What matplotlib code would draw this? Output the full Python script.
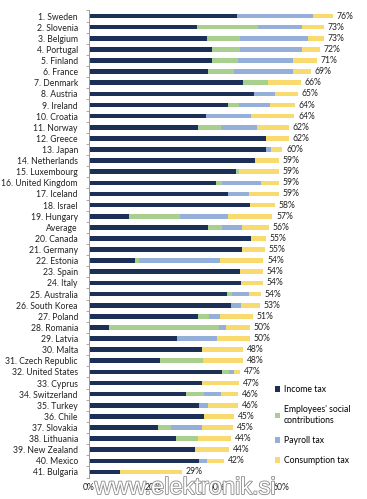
import matplotlib
matplotlib.use('Agg')
import matplotlib.pyplot as plt
import matplotlib.patheffects as pe
from matplotlib.patches import Patch
import numpy as np

plt.rcParams['font.family'] = ['Lato', 'DejaVu Sans']

# Data (% of labour cost)
countries = [
    '1. Sweden', '2. Slovenia', '3. Belgium', '4. Portugal', '5. Finland',
    '6. France', '7. Denmark', '8. Austria', '9. Ireland', '10. Croatia',
    '11. Norway', '12. Greece', '13. Japan', '14. Netherlands', '15. Luxembourg',
    '16. United Kingdom', '17. Iceland', '18. Israel', '19. Hungary', 'Average',
    '20. Canada', '21. Germany', '22. Estonia', '23. Spain', '24. Italy',
    '25. Australia', '26. South Korea', '27. Poland', '28. Romania', '29. Latvia',
    '30. Malta', '31. Czech Republic', '32. United States', '33. Cyprus',
    '34. Switzerland', '35. Turkey', '36. Chile', '37. Slovakia', '38. Lithuania',
    '39. New Zealand', '40. Mexico', '41. Bulgaria',
]
income_tax = [46.1, 33.8, 36.8, 38.4, 38.4, 37.2, 48.0, 51.6, 43.4, 36.5,
              34.0, 55.2, 55.3, 52.0, 46.0, 39.7, 43.5, 50.3, 12.5, 37.1,
              50.7, 47.7, 14.5, 47.3, 47.5, 43.1, 44.4, 34.0, 6.4, 27.5,
              35.3, 22.2, 41.6, 35.3, 30.4, 34.5, 35.8, 21.7, 27.3, 33.2,
              34.4, 9.8]
employee_social = [0, 19.1, 10.4, 8.8, 8.3, 8.2, 8.0, 0, 3.6, 0,
                   7.3, 0, 0, 0, 1.0, 1.8, 0, 0, 16.0, 4.4,
                   0, 0, 1.1, 0, 0, 1.6, 0, 3.5, 34.2, 0,
                   0, 13.5, 2.3, 0, 5.6, 0, 0, 3.9, 6.8, 0,
                   0, 0]
payroll_tax = [24.0, 13.8, 21.3, 19.5, 17.2, 18.5, 0, 6.5, 9.6, 14.2,
               11.1, 0, 1.5, 0, 0, 12.2, 6.6, 0, 14.9, 6.2,
               0, 0, 25.3, 0, 0, 5.3, 3.1, 3.4, 2.1, 12.6,
               0, 0, 1.4, 0, 5.3, 2.6, 0, 9.7, 0, 0,
               2.5, 0]
consumption_tax = [6.0, 6.6, 4.8, 5.5, 7.2, 5.5, 10.3, 7.1, 7.7, 13.5,
                   10.0, 7.2, 3.6, 7.3, 12.3, 5.6, 9.3, 7.8, 13.9, 8.4,
                   4.6, 7.3, 13.6, 7.1, 6.9, 3.7, 5.9, 10.4, 7.6, 10.2,
                   12.8, 12.4, 2.0, 11.6, 5.2, 9.4, 9.6, 9.6, 10.2, 10.7,
                   5.4, 19.2]
total_labels = [76, 73, 73, 72, 71, 69, 66, 65, 64, 64,
                62, 62, 60, 59, 59, 59, 59, 58, 57, 56,
                55, 55, 54, 54, 54, 54, 53, 51, 50, 50,
                48, 48, 47, 47, 46, 46, 45, 45, 44, 44,
                42, 29]

series_names = ['Income tax', "Employees' social\ncontributions", 'Payroll tax', 'Consumption tax']
colors = ['#1c2f57', '#a9cf8e', '#94b0d9', '#f9da6e']

fig = plt.figure(figsize=(3.67, 4.99), dpi=100)
ax = fig.add_axes([0.2425, 0.043, 0.6975, 0.936])

y = np.arange(len(countries))
left = np.zeros(len(countries))
for vals, col in zip([income_tax, employee_social, payroll_tax, consumption_tax], colors):
    vals = np.array(vals)
    ax.barh(y, vals, left=left, height=0.42, color=col, edgecolor='none')
    left = left + vals

# total labels
for yi, tot, lab in zip(y, left, total_labels):
    ax.text(tot + 1.2, yi, f'{lab}%', va='center', ha='left', fontsize=6.2, color='#222222')

ax.set_xlim(0, 80)
ax.set_ylim(len(countries) - 0.5, -0.5)
ax.set_yticks(y)
ax.set_yticklabels(countries, fontsize=6.2, color='#222222')
ax.tick_params(axis='y', which='major', length=0, pad=8)
ax.set_yticks(np.arange(len(countries) + 1) - 0.5, minor=True)
ax.tick_params(axis='y', which='minor', length=2.5, color='#9a9a9a', width=0.6)

ax.set_xticks([0, 20, 40, 60])
ax.set_xticklabels(['0%', '20%', '40%', '60%'], fontsize=6.2, color='#222222')
ax.tick_params(axis='x', length=0, pad=4)

for s in ['top', 'right', 'bottom']:
    ax.spines[s].set_visible(False)
ax.spines['left'].set_color('#9a9a9a')
ax.spines['left'].set_linewidth(0.7)

handles = [Patch(facecolor=c, edgecolor='none', label=n) for c, n in zip(colors, series_names)]
fig.legend(handles=handles, loc='upper left', bbox_to_anchor=(0.74, 0.235),
           frameon=False, fontsize=6.2, handlelength=0.6, handleheight=0.6,
           handletextpad=0.4, labelspacing=1.3, borderaxespad=0)

# watermark
fig.text(0.505, 0.022, 'www.elektronik.si', ha='center', va='center', fontsize=17,
         family='Liberation Sans Narrow' if False else 'Liberation Sans', color='white',
         path_effects=[pe.withStroke(linewidth=1.2, foreground='#8a8a8a')])

fig.savefig('out.png', dpi=100)
